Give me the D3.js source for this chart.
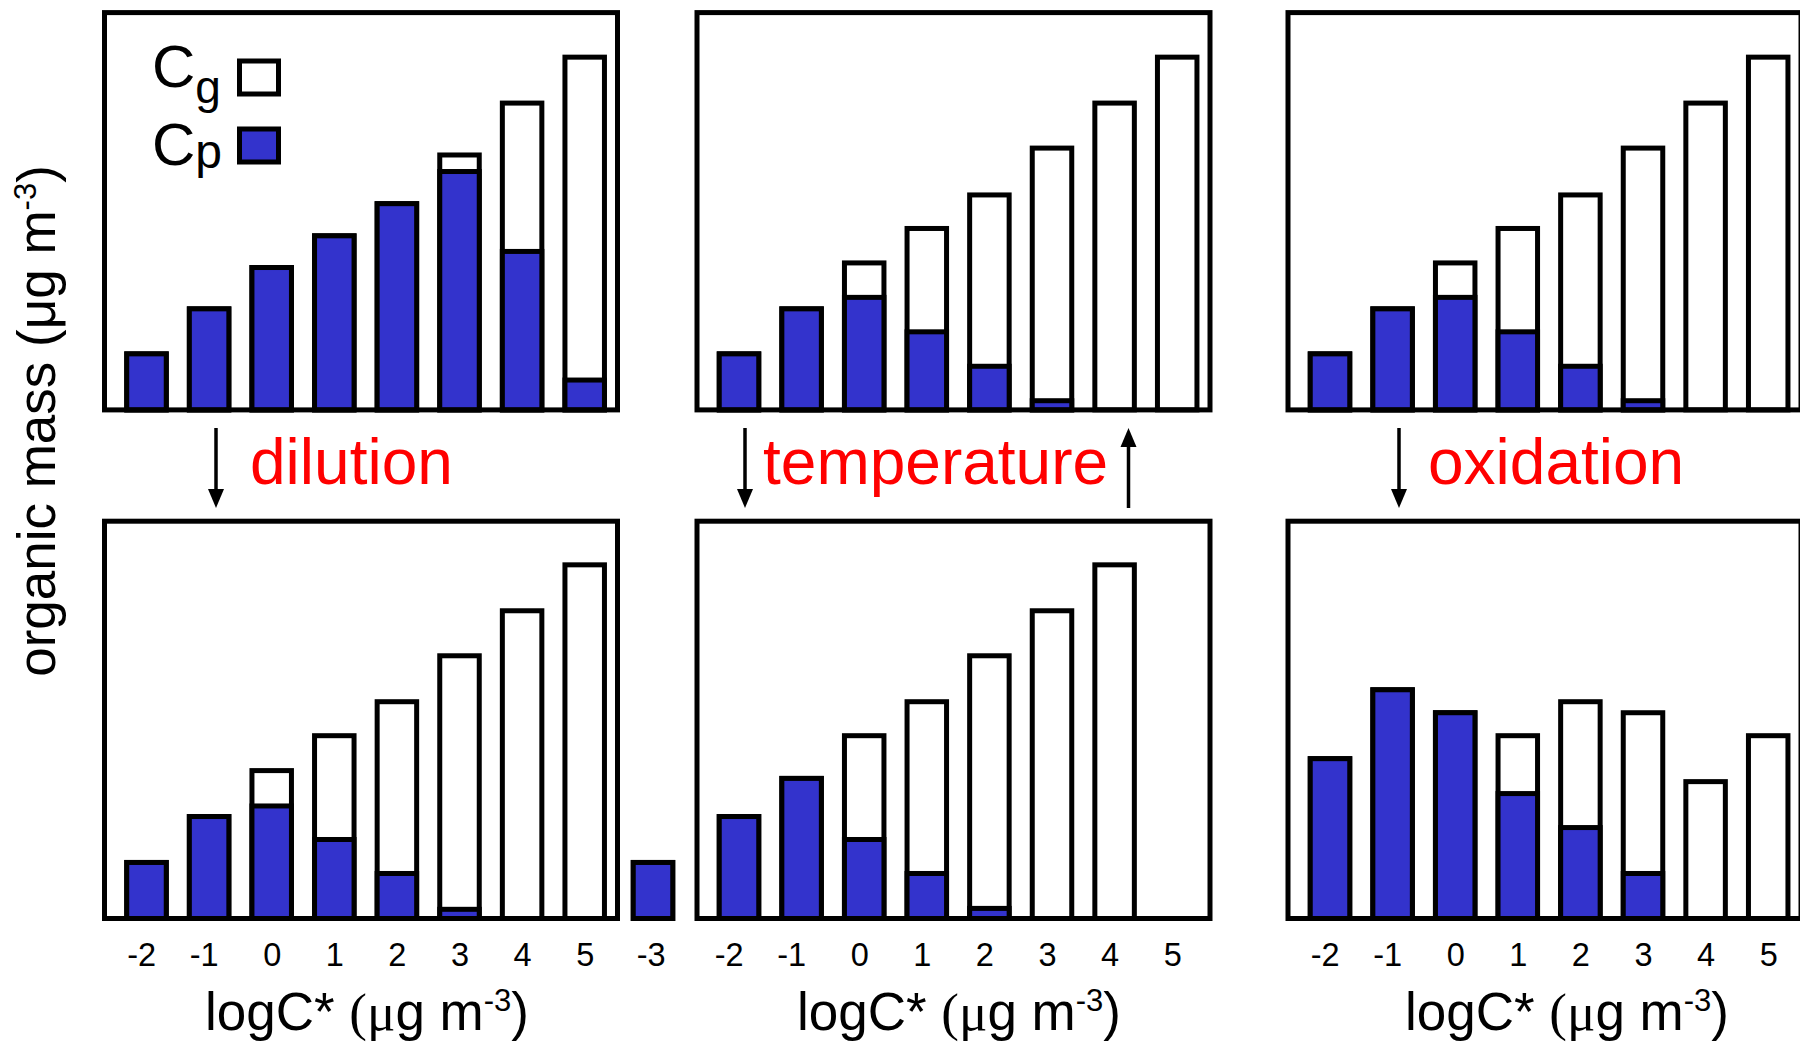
<!DOCTYPE html>
<html>
<head>
<meta charset="utf-8">
<script src="https://cdn.jsdelivr.net/npm/d3@7"></script>
<style>
  html, body { margin: 0; padding: 0; background: #fff; }
  svg { display: block; }
  text { font-family: "Liberation Sans", Arial, sans-serif; }
</style>
</head>
<body>
<svg id="chart" width="1800" height="1042"></svg>
<script>
// ---------- data (organic mass per volatility bin, arbitrary µg m-3 units) ----------
const bins = [-2, -1, 0, 1, 2, 3, 4, 5];
const binsShiftedLow = [-3, -2, -1, 0, 1, 2, 3, 4];
const tickLabels = [-2, -1, 0, 1, 2, 3, 4, 5];
const tickLabelsTemp = [-3, -2, -1, 0, 1, 2, 3, 4, 5];

// top row, left (before dilution)
const beforeDilutionTotal    = [1.22, 2.20, 3.10, 3.79, 4.49, 5.55, 6.68, 7.68];
const beforeDilutionParticle = [1.22, 2.20, 3.10, 3.79, 4.49, 5.19, 3.45, 0.65];
// top row, middle and right (reference state)
const referenceTotal    = [1.22, 2.20, 3.20, 3.95, 4.68, 5.70, 6.68, 7.68];
const referenceParticle = [1.22, 2.20, 2.45, 1.70, 0.95, 0.20, 0, 0];
// bottom row, left (after dilution)
const afterDilutionTotal    = [1.22, 2.22, 3.22, 3.98, 4.72, 5.72, 6.70, 7.70];
const afterDilutionParticle = [1.22, 2.22, 2.45, 1.72, 0.98, 0.20, 0, 0];
// bottom row, middle (after temperature decrease, bins shifted)
const afterTemperatureTotal    = [1.22, 2.22, 3.05, 3.98, 4.72, 5.72, 6.70, 7.70];
const afterTemperatureParticle = [1.22, 2.22, 3.05, 1.72, 0.98, 0.22, 0, 0];
// bottom row, right (after oxidation)
const afterOxidationTotal    = [3.48, 4.98, 4.48, 3.98, 4.72, 4.48, 2.98, 3.98];
const afterOxidationParticle = [3.48, 4.98, 4.48, 2.72, 1.98, 0.98, 0, 0];

const yMax = 8.65;
const processLabels = ["dilution", "temperature", "oxidation"];

// ---------- layout ----------
const BLUE = "#3333cc";
const colLeft = [104.5, 697, 1288];
const panelW = 513;
const rowTop = [12.6, 521.2];
const panelH = 397.3;
const barW = 39.5;
const barStroke = 5;
const frameStroke = 5;

const panels = [
  {row: 0, col: 0, bins: bins, total: beforeDilutionTotal, part: beforeDilutionParticle},
  {row: 0, col: 1, bins: bins, total: referenceTotal, part: referenceParticle},
  {row: 0, col: 2, bins: bins, total: referenceTotal, part: referenceParticle},
  {row: 1, col: 0, bins: bins, total: afterDilutionTotal, part: afterDilutionParticle, ticks: tickLabels, tickShift: () => 0},
  {row: 1, col: 1, bins: binsShiftedLow, total: afterTemperatureTotal, part: afterTemperatureParticle, ticks: tickLabelsTemp, tickShift: d => d < -2 ? 3 : -5},
  {row: 1, col: 2, bins: bins, total: afterOxidationTotal, part: afterOxidationParticle, ticks: tickLabels, tickShift: () => 0}
];

const svg = d3.select("#chart");

panels.forEach(p => {
  const left = colLeft[p.col], top = rowTop[p.row];
  const x = d3.scaleLinear().domain([-3, -2, 5]).range([left - 44, left + 42, left + 480.2]);
  const y = d3.scaleLinear().domain([0, yMax]).range([top + panelH, top]);
  const g = svg.append("g");

  const rows = p.bins.map((b, i) => ({bin: b, total: p.total[i], part: p.part[i]}));

  g.selectAll("rect.total").data(rows).join("rect")
    .attr("class", "total")
    .attr("x", d => x(d.bin) - barW / 2)
    .attr("width", barW)
    .attr("y", d => y(d.total))
    .attr("height", d => y(0) - y(d.total))
    .attr("fill", "#fff").attr("stroke", "#000").attr("stroke-width", barStroke);

  g.selectAll("rect.part").data(rows.filter(d => d.part > 0)).join("rect")
    .attr("class", "part")
    .attr("x", d => x(d.bin) - barW / 2)
    .attr("width", barW)
    .attr("y", d => y(d.part))
    .attr("height", d => y(0) - y(d.part))
    .attr("fill", BLUE).attr("stroke", "#000").attr("stroke-width", barStroke);

  // frame
  g.append("rect")
    .attr("x", left).attr("y", top).attr("width", panelW).attr("height", panelH)
    .attr("fill", "none").attr("stroke", "#000").attr("stroke-width", frameStroke);

  if (p.ticks) {
    const axis = d3.axisBottom(x).tickValues(p.ticks).tickSize(0).tickFormat(d => String(d));
    const ag = g.append("g").attr("transform", `translate(0,${top + panelH})`).call(axis);
    ag.select(".domain").remove();
    ag.selectAll("text")
      .attr("y", 47.5).attr("dy", 0)
      .attr("x", d => p.tickShift(d))
      .attr("text-anchor", "end").attr("dx", "0.278em")
      .style("font-family", "'Liberation Sans', Arial, sans-serif")
      .style("font-size", "32.5px").attr("fill", "#000");
  }
});

// x-axis titles
const xTitleCenters = [367, 959, 1567];
xTitleCenters.forEach(cx => {
  const t = svg.append("text").attr("x", cx).attr("y", 1030)
    .attr("text-anchor", "middle").style("font-size", "53px");
  t.append("tspan").text("logC* ");
  t.append("tspan").style("font-family", "'Liberation Serif', 'Times New Roman', serif").text("(\u03bc");
  t.append("tspan").text("g m");
  t.append("tspan").attr("dy", -19).style("font-size", "31px").text("-3");
  t.append("tspan").attr("dy", 19).text(")");
});

// y-axis title
const yt = svg.append("text").attr("transform", "translate(55,421) rotate(-90)")
  .attr("text-anchor", "middle").style("font-size", "53px");
yt.append("tspan").text("organic mass (\u03bcg m");
yt.append("tspan").attr("dy", -19).style("font-size", "31px").text("-3");
yt.append("tspan").attr("dy", 19).text(")");

// legend
const legend = svg.append("g");
const legendItems = [
  {sub: "g", fill: "#fff", base: 87, subDy: 16, subSize: 46, boxY: 61, boxH: 33},
  {sub: "p", fill: BLUE, base: 165, subDy: 3, subSize: 48, boxY: 129, boxH: 33}
];
legendItems.forEach(it => {
  const t = legend.append("text").attr("x", 152).attr("y", it.base).style("font-size", "60px");
  t.append("tspan").text("C");
  t.append("tspan").attr("dy", it.subDy).style("font-size", it.subSize + "px").text(it.sub);
  legend.append("rect").attr("x", 239.5).attr("y", it.boxY).attr("width", 39).attr("height", it.boxH)
    .attr("fill", it.fill).attr("stroke", "#000").attr("stroke-width", 5);
});

// process labels (red)
const labelX = [250, 763, 1428];
processLabels.forEach((s, i) => {
  svg.append("text").attr("x", labelX[i]).attr("y", 484)
    .style("font-size", "64px").attr("fill", "#ff0000").text(s);
});

// arrows
function arrow(xp, yFrom, yTo) {
  const dir = yTo > yFrom ? 1 : -1;
  const headL = 19, headW = 8;
  svg.append("line").attr("x1", xp).attr("x2", xp).attr("y1", yFrom).attr("y2", yTo - dir * headL + dir * 2)
    .attr("stroke", "#000").attr("stroke-width", 3.5);
  svg.append("path")
    .attr("d", `M${xp - headW},${yTo - dir * headL} L${xp + headW},${yTo - dir * headL} L${xp},${yTo} Z`)
    .attr("fill", "#000");
}
arrow(216, 428, 508);
arrow(745, 428, 508);
arrow(1128.5, 508, 428);
arrow(1399, 428, 508);
</script>
</body>
</html>
